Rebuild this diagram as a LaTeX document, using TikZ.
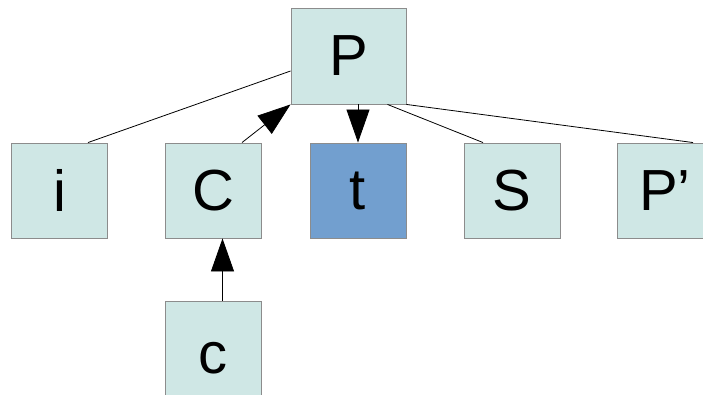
\documentclass[tikz,border=0pt]{standalone}
\usepackage{fontspec}
\setmainfont{Liberation Sans}
\usetikzlibrary{arrows.meta}
\definecolor{boxfill}{HTML}{CFE7E5}
\definecolor{boxblue}{HTML}{729FCF}
\definecolor{boxline}{HTML}{8C8C8C}
\tikzset{
  box/.style={draw=boxline, line width=0.9pt, fill=boxfill, minimum width=96pt,
    minimum height=95pt, inner sep=0pt, font=\fontsize{58}{60}\selectfont},
  link/.style={draw=black, line width=0.8pt},
  arr/.style={link, -{Triangle[length=33pt,width=23pt]}}
}
\begin{document}
\begin{tikzpicture}[x=1pt, y=-1pt]
  \useasboundingbox (0,0) rectangle (703,395);
  % top-level node
  \node[box, minimum width=115pt, minimum height=96pt] (P) at (348.5,56) {P};
  % children row
  \node[box] (i) at (59.5,190.5) {i};
  \node[box] (C) at (213,190.5) {C};
  \node[box, fill=boxblue] (t) at (358,190.5) {t};
  \node[box] (S) at (512,190.5) {S};
  \node[box] (Pp) at (665,190.5) {P’};
  % grandchild, running past the lower edge
  \node[box, minimum height=115pt] (c) at (213,358.5) {c};
  % connectors
  \draw[link] ([yshift=-15pt]P.west) -- ([xshift=28.5pt]i.north);
  \draw[arr] ([xshift=29pt]C.north) -- (P.south west);
  \draw[arr] (t.north |- P.south) -- (t.north);
  \draw[link] ([xshift=-19pt]P.south east) -- ([xshift=-29pt]S.north);
  \draw[link] (P.south east) -- ([xshift=28pt]Pp.north);
  \draw[arr] ([xshift=9.5pt]c.north) -- ([xshift=9.5pt]C.south);
\end{tikzpicture}
\end{document}
